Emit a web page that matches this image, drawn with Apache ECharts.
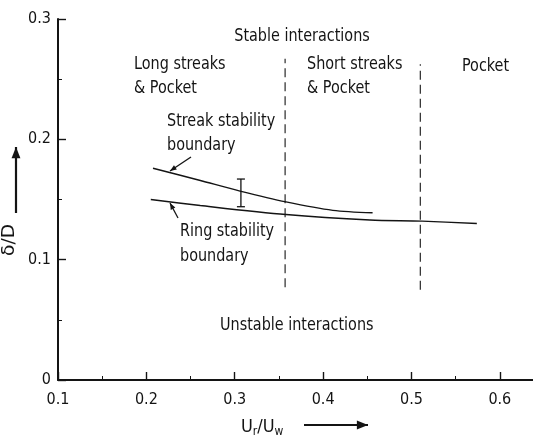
<!DOCTYPE html>
<html><head><meta charset="utf-8">
<script src="https://cdn.jsdelivr.net/npm/echarts@6/dist/echarts.min.js"></script>
<style>html,body{margin:0;padding:0;background:#fff;overflow:hidden}#c{width:533px;height:441px}</style>
</head><body><div id="c"></div>
<script>
// Data
var streakX = [0.2075, 0.26, 0.306, 0.358, 0.411, 0.456];
var streakY = [0.176, 0.166, 0.157, 0.148, 0.141, 0.139];
var ringX = [0.205, 0.261, 0.358, 0.453, 0.512, 0.574];
var ringY = [0.150, 0.145, 0.1375, 0.133, 0.132, 0.130];
var errX = [0.307];
var errLow = [0.144];
var errHigh = [0.167];
var dividerX = [0.357, 0.51];
var dividerLow = [0.077, 0.075];
var dividerHigh = [0.267, 0.2625];
var xTicks = [0.1, 0.2, 0.3, 0.4, 0.5, 0.6];
var yTicks = [0, 0.1, 0.2, 0.3];

var FONT = '"DejaVu Sans Condensed","DejaVu Sans",sans-serif';
var INK = '#141414';

function pairs(xs, ys){ return xs.map(function(x,i){return [x, ys[i]];}); }

var chart = echarts.init(document.getElementById('c'), null, {renderer:'canvas'});

var series = [
  {type:'line', data:pairs(streakX, streakY), smooth:0.3, showSymbol:false, symbol:'none',
   lineStyle:{color:INK, width:1.4}, z:3},
  {type:'line', data:pairs(ringX, ringY), smooth:0.3, showSymbol:false, symbol:'none',
   lineStyle:{color:INK, width:1.4}, z:3},
  {type:'custom', data:errX.map(function(x,i){return [x, errLow[i], errHigh[i]];}),
   renderItem:function(params, api){
     var lo = api.coord([api.value(0), api.value(1)]);
     var hi = api.coord([api.value(0), api.value(2)]);
     var w = 4;
     var st = {stroke:INK, lineWidth:1.3};
     return {type:'group', children:[
       {type:'line', shape:{x1:lo[0], y1:lo[1], x2:hi[0], y2:hi[1]}, style:st},
       {type:'line', shape:{x1:lo[0]-w, y1:lo[1], x2:lo[0]+w, y2:lo[1]}, style:st},
       {type:'line', shape:{x1:hi[0]-w, y1:hi[1], x2:hi[0]+w, y2:hi[1]}, style:st}
     ]};
   }, z:3}
];
dividerX.forEach(function(x,i){
  series.push({type:'line', data:[[x, dividerLow[i]],[x, dividerHigh[i]]], showSymbol:false, symbol:'none',
    lineStyle:{color:INK, width:1.1, type:[9,5]}, z:2});
});

function arrow(x1,y1,x2,y2,head,lw){
  var a = Math.atan2(y2-y1, x2-x1);
  var h = head||6, s = 0.38;
  return [
    {type:'line', shape:{x1:x1,y1:y1,x2:x2,y2:y2}, style:{stroke:INK, lineWidth:lw||1.3}},
    {type:'polygon', shape:{points:[[x2,y2],[x2-h*Math.cos(a-s), y2-h*Math.sin(a-s)],[x2-h*Math.cos(a+s), y2-h*Math.sin(a+s)]]}, style:{fill:INK}}
  ];
}
function txt(x,y,t,opt){
  opt = opt||{};
  return {type:'text', x:x, y:y, rotation:opt.rot||0, scaleX:opt.rot?1.15:1, scaleY:opt.rot?1:1.15,
    style:{text:t, fill:INK, font:(opt.size||16)+'px '+FONT,
    textAlign:opt.align||'left', textVerticalAlign:'middle'}};
}

var graphics = [
  txt(302,36,'Stable interactions',{align:'center'}),
  txt(134,64,'Long streaks'), txt(134,88,'& Pocket'),
  txt(307,64,'Short streaks'), txt(307,88,'& Pocket'),
  txt(462,66,'Pocket'),
  txt(167,121,'Streak stability'), txt(167,145,'boundary'),
  txt(180,231,'Ring stability'), txt(180,256,'boundary'),
  txt(220,325,'Unstable interactions'),
  txt(9,240,'δ/D',{rot:Math.PI/2, align:'center', size:18}),
  {type:'text', x:241, y:427, style:{text:'U{s|r}/U{s|w}', fill:INK, font:'18px '+FONT, textVerticalAlign:'middle',
    rich:{s:{fontSize:12, fontFamily:FONT, fill:INK, padding:[10,0,0,0]}}}}
].concat(arrow(191,157,170,171,7)).concat(arrow(178,218,170,203,7))
 .concat(arrow(16,213,16,147,12,2.2)).concat(arrow(304,425,368,425,12,2.2));

chart.setOption({
  animation:false,
  backgroundColor:'#fff',
  grid:{left:58, width:486, top:19, bottom:61, containLabel:false, outerBoundsMode:'none'},
  xAxis:{type:'value', min:0.1, max:0.65, interval:0.1,
    axisLine:{show:true, onZero:false, lineStyle:{color:INK, width:2}},
    axisTick:{show:true, inside:true, length:8, lineStyle:{color:INK, width:1.4}},
    minorTick:{show:true, splitNumber:2, length:4, lineStyle:{color:INK, width:1}},
    splitLine:{show:false},
    axisLabel:{color:INK, fontFamily:FONT, fontSize:16, margin:12,
      formatter:function(v){ var r=Math.round(v*10)/10; return xTicks.indexOf(r)>=0 ? String(r) : ''; }}},
  yAxis:{type:'value', min:0, max:0.3, interval:0.1,
    axisLine:{show:true, onZero:false, lineStyle:{color:INK, width:2}},
    axisTick:{show:true, inside:true, length:8, lineStyle:{color:INK, width:1.4}},
    minorTick:{show:true, splitNumber:2, length:4, lineStyle:{color:INK, width:1}},
    splitLine:{show:false},
    axisLabel:{color:INK, fontFamily:FONT, fontSize:16, margin:7,
      formatter:function(v){ var r=Math.round(v*10)/10; return yTicks.indexOf(r)>=0 ? String(r) : ''; }}},
  series:series,
  graphic:graphics
});
</script></body></html>
